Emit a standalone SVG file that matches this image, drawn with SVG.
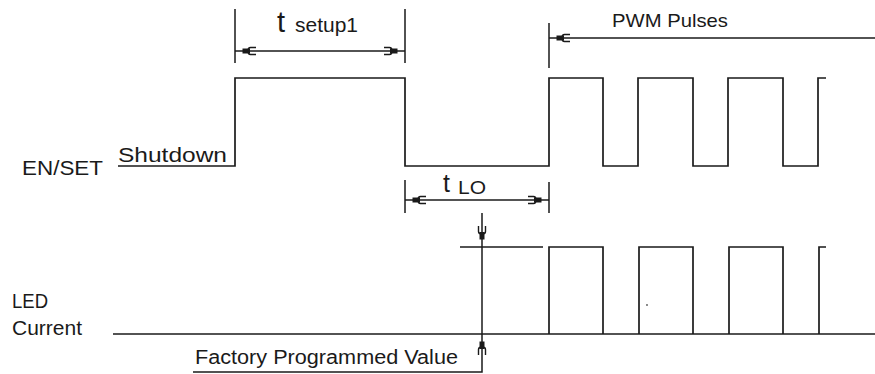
<svg xmlns="http://www.w3.org/2000/svg" width="875" height="374" viewBox="0 0 875 374">
<style>
.w{fill:none;stroke:#1a1a1a;stroke-width:1.7}
.d{fill:none;stroke:#1a1a1a;stroke-width:1.5}
.t{font-family:"Liberation Sans",Arial,sans-serif;fill:#1a1a1a}
</style>
<defs>
<marker id="ah" markerUnits="userSpaceOnUse" viewBox="-24 -6 26 12" markerWidth="26" markerHeight="12" refX="0" refY="0" orient="auto-start-reverse" overflow="visible">
<path d="M-21,-3.5 H-15.5 Q-13,-3.5 -13,0 Q-13,3.5 -15.5,3.5 H-21" fill="none" stroke="#1a1a1a" stroke-width="1.4"/>
<rect x="-15" y="-2.5" width="7.5" height="5" fill="#1a1a1a"/>
</marker>
</defs>
<rect width="875" height="374" fill="#fff"/>
<g id="labels">
<text class="t" x="22" y="175" font-size="21" textLength="81" lengthAdjust="spacingAndGlyphs">EN/SET</text>
<text class="t" x="118" y="162" font-size="21" textLength="109" lengthAdjust="spacingAndGlyphs">Shutdown</text>
<text class="t" x="12" y="308" font-size="20" textLength="36" lengthAdjust="spacingAndGlyphs">LED</text>
<text class="t" x="12" y="335" font-size="20" textLength="70" lengthAdjust="spacingAndGlyphs">Current</text>
<text class="t" x="195" y="364" font-size="20" textLength="263" lengthAdjust="spacingAndGlyphs">Factory Programmed Value</text>
<text class="t" x="612" y="27" font-size="19" textLength="116" lengthAdjust="spacingAndGlyphs">PWM Pulses</text>
<text class="t" x="277" y="32" font-size="29">t</text>
<text class="t" x="295" y="32" font-size="21" textLength="63" lengthAdjust="spacingAndGlyphs">setup1</text>
<text class="t" x="443" y="192" font-size="25">t</text>
<text class="t" x="458" y="194" font-size="19" textLength="28" lengthAdjust="spacingAndGlyphs">LO</text>
</g>
<g id="en-set-waveform">
<path class="w" d="M118,166 H235 V78 H405 V166 H549 V78 H603 V166 H638 V78 H693 V166 H728 V78 H783 V166 H818 V78 H826"/>
</g>
<g id="led-current-waveform">
<path class="w" d="M113,334 H875"/>
<path class="w" d="M460,247 H543"/>
<path class="w" d="M549,334 V247 H603 V334 M639,334 V247 H693 V334 M729,334 V247 H783 V334 M819,334 V247 H826"/>
<circle cx="647" cy="305" r="0.9" fill="#555"/>
</g>
<g id="connectors">
<path class="d" d="M235,9 V63 M405,9 V63"/>
<path class="d" d="M235,51 H405" marker-start="url(#ah)" marker-end="url(#ah)"/>
<path class="d" d="M405,180 V213 M549,182 V213"/>
<path class="d" d="M405,200 H549" marker-start="url(#ah)" marker-end="url(#ah)"/>
<path class="d" d="M549,23 V68"/>
<path class="d" d="M875,38 H549" marker-end="url(#ah)"/>
<path class="d" d="M482,213 V247" marker-end="url(#ah)"/>
<path class="d" d="M482,247 V334"/>
<path class="d" d="M193,372 H482 V334" marker-end="url(#ah)"/>
</g>
</svg>
